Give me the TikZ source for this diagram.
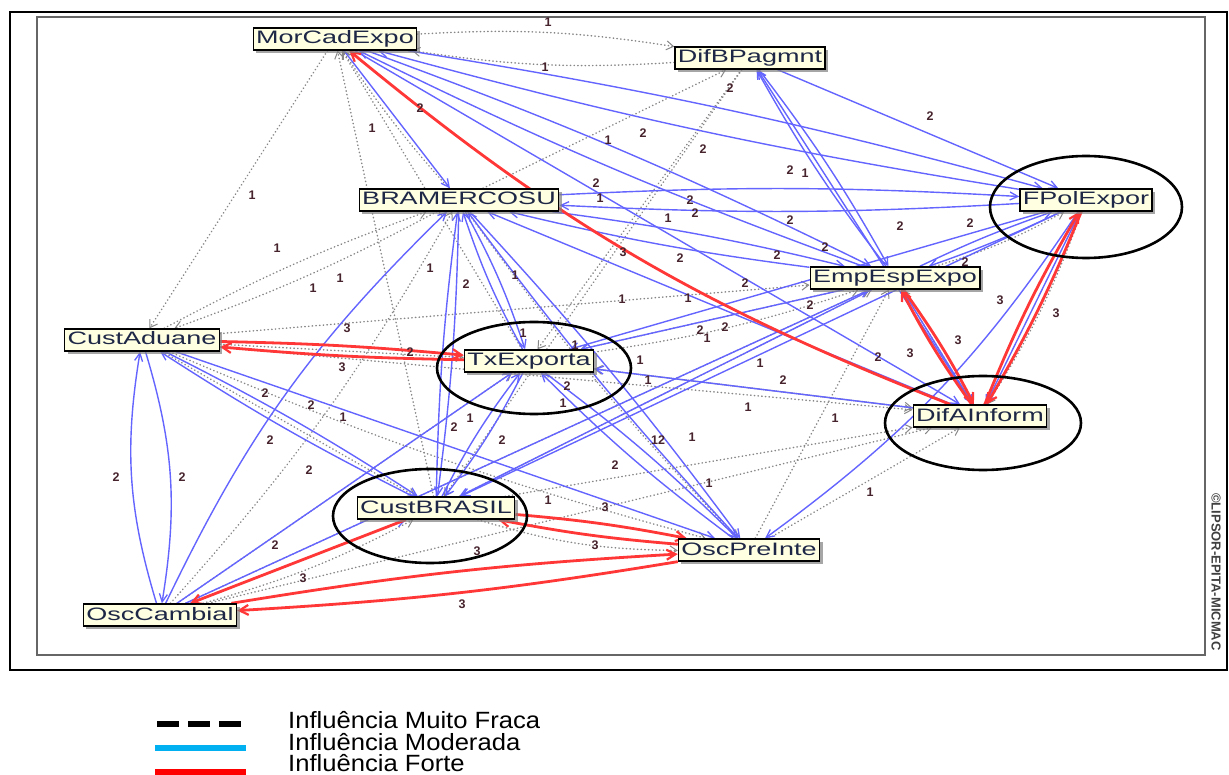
\documentclass[tikz,border=0pt]{standalone}
\usepackage{fontspec}
\setmainfont{Liberation Sans}
\newfontfamily\boxfont[FakeStretch=1.5]{Liberation Sans}
\newfontfamily\legfont[FakeStretch=1.09]{Liberation Sans}
\usetikzlibrary{arrows.meta,shadows,backgrounds}

\definecolor{modblue}{RGB}{100,100,255}
\definecolor{strongred}{RGB}{255,55,55}
\definecolor{weakgray}{RGB}{135,135,135}
\definecolor{boxfill}{RGB}{255,255,226}
\definecolor{boxtext}{RGB}{30,40,70}
\definecolor{numcol}{RGB}{70,35,45}
\definecolor{legcyan}{RGB}{0,176,240}

\begin{document}
\begin{tikzpicture}[x=1pt,y=1pt,
  var/.style={draw=black, line width=1.4pt, fill=boxfill, text=boxtext,
    font=\boxfont\fontsize{18}{20}\selectfont, inner xsep=3pt, inner ysep=0pt,
    minimum height=22pt, text height=13pt, text depth=3pt,
    drop shadow={shadow xshift=3pt, shadow yshift=-3pt, fill=black!50, opacity=0.7}},
  weak/.style={draw=weakgray, line width=1.5pt, line cap=round, dash pattern=on 0.4pt off 3.3pt,
    -{Straight Barb[length=7pt,width=9pt,line width=1pt]}},
  mod/.style={draw=modblue, line width=1.4pt,
    -{Straight Barb[length=8pt,width=8pt,line width=1.3pt]}},
  strong/.style={draw=strongred, line width=2.8pt,
    -{Straight Barb[length=9pt,width=10pt,line width=2.2pt]}},
  num/.style={font=\bfseries\fontsize{12.5}{12.5}\selectfont, text=numcol, inner sep=0pt},
  ring/.style={draw=black, line width=2.6pt},
  legtext/.style={anchor=base west, inner sep=0pt, font=\legfont\fontsize{23.5}{23.5}\selectfont}]

\useasboundingbox (0,-775) rectangle (1229,0);

% variables
\node[var] (mor) at (335,-39)  {MorCadExpo};
\node[var] (dif) at (750,-58)  {DifBPagmnt};
\node[var] (bra) at (459,-200) {BRAMERCOSU};
\node[var] (fpo) at (1086,-200) {FPolExpor};
\node[var] (emp) at (895,-278) {EmpEspExpo};
\node[var] (cad) at (142,-340) {CustAduane};
\node[var] (txe) at (529,-361) {TxExporta};
\node[var] (dai) at (980,-416) {DifAInform};
\node[var] (cbr) at (436,-508) {CustBRASIL};
\node[var] (opi) at (749,-550) {OscPreInte};
\node[var] (osc) at (160,-615) {OscCambial};

\begin{scope}[on background layer]
  % frames
  \draw[line width=2pt] (10,-12) rectangle (1227,-670);
  \draw[draw=black!60, line width=2pt] (37,-17) rectangle (1205,-655);

  % very weak influences
  \draw[weak] (mor) to[bend left=6] (dif);
  \draw[weak] (dif) to[bend left=6] (mor);
  \draw[weak] (mor) -- (cad);
  \draw[weak] (txe) -- (mor);
  \draw[weak] (cbr) -- (mor);
  \draw[weak] (bra) to[bend left=4] (mor);
  \draw[weak] (cad) to[bend left=4] (bra);
  \draw[weak] (bra) to[bend left=4] (cad);
  \draw[weak] (cad) -- (txe);
  \draw[weak] (cad) -- (emp);
  \draw[weak] (cad) -- (dai);
  \draw[weak] (cad) to[bend right=4] (opi);
  \draw[weak] (dif) -- (txe);
  \draw[weak] (dif) -- (cbr);
  \draw[weak] (bra) -- (dif);
  \draw[weak] (emp) -- (txe);
  \draw[weak] (txe) to[bend right=5] (emp);
  \draw[weak] (txe) -- (dai);
  \draw[weak] (cbr) -- (dai);
  \draw[weak] (opi) -- (dai);
  \draw[weak] (osc) -- (dai);
  \draw[weak] (fpo) to[bend left=6] (dai);
  \draw[weak] (dai) -- (emp);
  \draw[weak] (cbr) -- (emp);
  \draw[weak] (osc) -- (emp);
  \draw[weak] (osc) -- (txe);
  \draw[weak] (osc) to[bend right=6] (bra);
  \draw[weak] (cad) -- (cbr);
  \draw[weak] (emp) to[bend right=6] (fpo);
  \draw[weak] (opi) -- (emp);
  \draw[weak] (bra) to[bend right=4] (opi);
  \draw[weak] (dai) -- (txe);
  \draw[weak] (osc) to[bend right=6] (cbr);
  \draw[weak] (cbr) to[bend right=8] (opi);

  % moderate influences
  \draw[mod] (mor) -- (bra);
  \draw[mod] (mor) to[bend left=3] (fpo);
  \draw[mod] (fpo) to[bend left=3] (mor);
  \draw[mod] (mor) to[bend left=3] (emp);
  \draw[mod] (emp) to[bend left=3] (mor);
  \draw[mod] (mor) -- (dai);
  \draw[mod] (dif) -- (fpo);
  \draw[mod] (dif) to[bend left=4] (emp);
  \draw[mod] (emp) to[bend left=4] (dif);
  \draw[mod] (dai) -- (dif);
  \draw[mod] (bra) to[bend left=3] (fpo);
  \draw[mod] (fpo) to[bend left=3] (bra);
  \draw[mod] (bra) to[bend left=3] (emp);
  \draw[mod] (emp) to[bend left=3] (bra);
  \draw[mod] (dai) -- (bra);
  \draw[mod] (bra) to[bend left=5] (txe);
  \draw[mod] (txe) to[bend left=5] (bra);
  \draw[mod] (bra) to[bend left=3] (cbr);
  \draw[mod] (cbr) to[bend left=3] (bra);
  \draw[mod] (osc) to[bend left=10] (bra);
  \draw[mod] (opi) to[bend left=3] (bra);
  \draw[mod] (bra) to[bend left=3] (opi);
  \draw[mod] (cad) to[bend left=13] (osc);
  \draw[mod] (osc) to[bend left=13] (cad);
  \draw[mod] (cad) to[bend left=3] (cbr);
  \draw[mod] (cbr) to[bend left=3] (cad);
  \draw[mod] (cad) -- (opi);
  \draw[mod] (osc) -- (txe);
  \draw[mod] (osc) -- (cbr);
  \draw[mod] (osc) -- (emp);
  \draw[mod] (cbr) to[bend left=5] (txe);
  \draw[mod] (txe) to[bend left=5] (cbr);
  \draw[mod] (txe) to[bend left=4] (opi);
  \draw[mod] (opi) to[bend left=4] (txe);
  \draw[mod] (fpo) -- (txe);
  \draw[mod] (emp) -- (txe);
  \draw[mod] (fpo) to[bend left=3] (emp);
  \draw[mod] (emp) to[bend left=3] (fpo);
  \draw[mod] (fpo) -- (dai);
  \draw[mod] (emp) -- (dai);
  \draw[mod] (fpo) to[bend left=10] (opi);
  \draw[mod] (fpo) -- (cbr);
  \draw[mod] (emp) -- (cbr);
  \draw[mod] (dai) -- (txe);

  % strong influences
  \draw[strong] (dai) to[bend left=9] (mor);
  \draw[strong] (cad) to[bend left=2] (txe);
  \draw[strong] (txe) to[bend left=2] (cad);
  \draw[strong] (fpo) to[bend left=4] (dai);
  \draw[strong] (dai) to[bend left=4] (fpo);
  \draw[strong] (emp) to[bend left=4] (dai);
  \draw[strong] (dai) to[bend left=4] (emp);
  \draw[strong] (cbr) to[bend left=3] (opi);
  \draw[strong] (opi) to[bend left=3] (cbr);
  \draw[strong] (osc) to[bend left=3] (opi);
  \draw[strong] (opi) to[bend left=3] (osc);
  \draw[strong] (cbr) -- (osc);
\end{scope}

% intensity values
\foreach \px/\py/\v [count=\i] in {
  548/22/1, 545/67/1, 420/108/2, 372/128/1, 730/88/2, 643/133/2, 608/140/1,
  703/149/2, 930/116/2, 790/170/2, 805/173/1, 252/195/1, 596/183/2, 600/198/1,
  690/200/2, 695/213/2, 668/218/1, 790/220/2, 900/226/2, 970/223/2, 277/248/1,
  623/252/3, 680/258/2, 777/255/2, 825/247/2, 745/283/2, 810/305/2, 688/298/1,
  622/299/1, 700/330/2, 725/327/2, 707/338/1, 760/363/1, 783/380/2, 748/407/1,
  835/418/1, 878/357/2, 910/353/3, 640/360/1, 648/380/1, 658/440/12, 692/437/1,
  615/465/2, 313/288/1, 340/278/1, 347/328/3, 430/268/1, 466/284/2, 515/275/1,
  523/333/1, 575/345/1, 567/386/2, 563/403/1, 410/352/2, 342/367/3, 265/393/2,
  311/405/2, 343/417/1, 270/440/2, 309/470/2, 454/427/2, 470/418/1, 502/440/2,
  116/477/2, 182/477/2, 548/500/1, 605/507/3, 595/545/3, 477/551/3, 275/545/2,
  303/578/3, 462/604/3, 709/483/1, 870/492/1, 1000/300/3, 1056/313/3, 958/340/3,
  965/262/2}
  \node[num] (w\i) at (\px,-\py) {\v};

% highlighted variables
\draw[ring] (1086,-207) ellipse [x radius=96, y radius=51];
\draw[ring] (534,-368) ellipse [x radius=97, y radius=46];
\draw[ring] (983,-423) ellipse [x radius=98, y radius=47];
\draw[ring] (430,-516) ellipse [x radius=97, y radius=47];

% software credit
\node[rotate=-90, font=\bfseries\fontsize{13}{13}\selectfont, text=black!75, inner sep=0pt]
  (credit) at (1216,-572) {©LIPSOR-EPITA-MICMAC};

% legend
\draw[line width=6pt, dash pattern=on 22pt off 9pt] (157,-724) -- (244,-724);
\draw[legcyan, line width=5.5pt] (155,-748) -- (246,-748);
\draw[red, line width=6pt] (155,-772) -- (246,-772);
\node[legtext] (lgweak) at (288,-728) {Influência Muito Fraca};
\node[legtext] (lgmod)  at (288,-750) {Influência Moderada};
\node[legtext] (lgstr)  at (288,-771.5) {Influência Forte};
\end{tikzpicture}
\end{document}
